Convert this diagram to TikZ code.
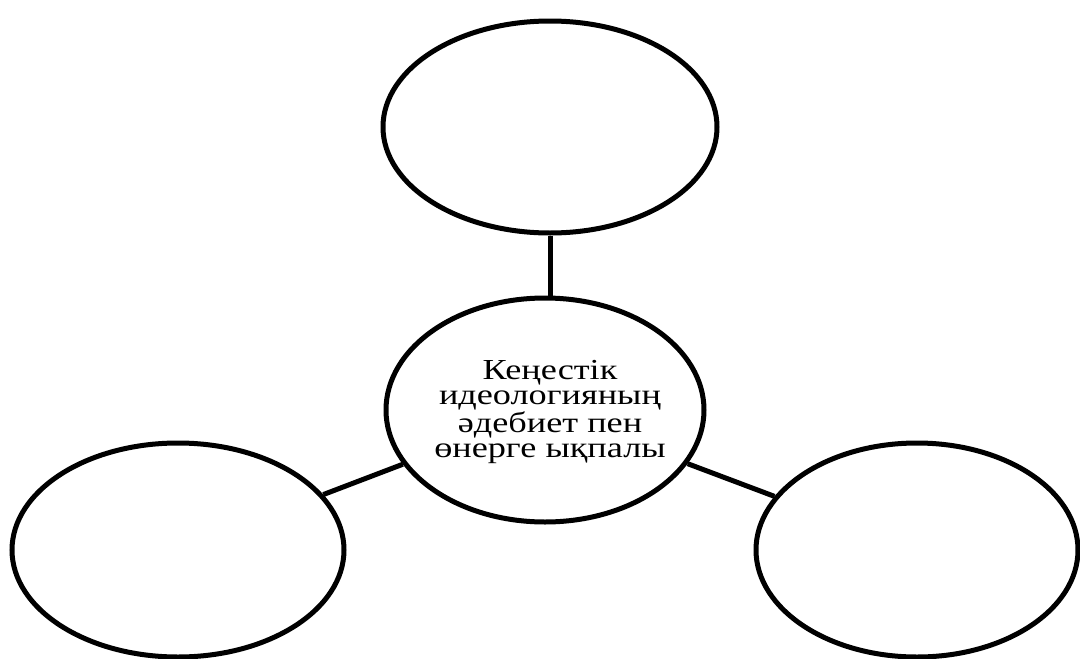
\documentclass[tikz,border=0pt]{standalone}
\usepackage{fontspec}
\setmainfont{Liberation Serif}
\newfontfamily\kzfont[FakeStretch=1.25]{Liberation Serif}
\usetikzlibrary{shapes.geometric}
\tikzset{
  bubble/.style={draw=black, line width=5pt, ellipse, inner sep=0pt, fill=white},
  link/.style={draw=black, line width=5pt},
  label/.style={align=center, font=\kzfont\fontsize{29}{25}\selectfont, inner sep=0pt}
}
\begin{document}
\begin{tikzpicture}[x=1pt, y=-1pt]
\useasboundingbox (0,0) rectangle (1080,659);
\node[bubble, minimum width=334pt, minimum height=212pt] (t) at (550,127) {};
\node[bubble, minimum width=318pt, minimum height=224pt] (c) at (545,410) {};
\node[bubble, minimum width=332pt, minimum height=214pt] (l) at (178,550) {};
\node[bubble, minimum width=322pt, minimum height=214pt] (r) at (917,550) {};
\node[label] (ctext) at (550,412) {Кеңестік\\идеологияның\\әдебиет пен\\өнерге ықпалы};
\draw[link] (t.south) -- (t.south |- c.north);
\draw[link] (c) -- (l);
\draw[link] (c) -- (r);
\end{tikzpicture}
\end{document}
